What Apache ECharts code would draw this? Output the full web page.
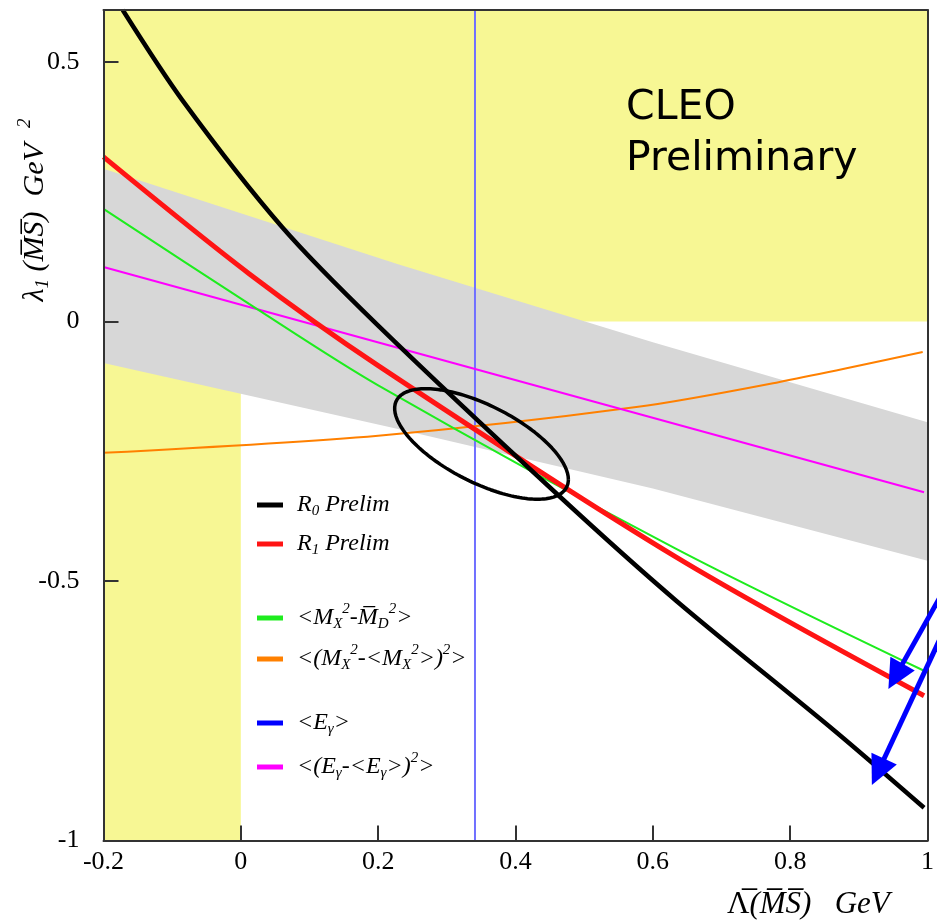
<!DOCTYPE html>
<html>
<head>
<meta charset="utf-8">
<script src="https://cdn.jsdelivr.net/npm/echarts/dist/echarts.min.js"></script>
<style>
  html, body { margin: 0; padding: 0; background: #ffffff; }
  #chart { width: 937px; height: 924px; }
</style>
</head>
<body>
<div id="chart"></div>
<script>
// ---- axis ranges ----
const xRange = [-0.2, 1.0];
const yRange = [-1.0, 0.6];
const xTickStep = 0.2;
const yTickStep = 0.5;

// ---- shaded allowed regions: [xMin, xMax, yMin, yMax] ----
const yellowRegions = [
  [-0.2, 1.0, 0.0, 0.6],
  [-0.2, 0.0, -1.0, 0.0]
];

// ---- error band around the photon-energy variance constraint ----
const bandUpper = [[-0.2, 0.294], [0.229, 0.110], [0.6, -0.040], [1.0, -0.194]];
const bandLower = [[-0.2, -0.080], [0.229, -0.207], [0.6, -0.322], [1.0, -0.461]];

// ---- moment constraint curves (Lambda-bar, lambda1) ----
const r0Curve = [[-0.172, 0.6], [-0.085, 0.426], [0.06, 0.182], [0.2, -0.008], [0.46, -0.332], [0.634, -0.538], [0.865, -0.789], [0.995, -0.937]];
const r1Curve = [[-0.2, 0.317], [0.012, 0.092], [0.2, -0.085], [0.634, -0.454], [0.995, -0.721]];
const hadronMassCurve = [[-0.2, 0.217], [0.012, 0.034], [0.2, -0.123], [0.634, -0.438], [0.995, -0.673]];
const hadronVarCurve = [[-0.2, -0.253], [0.2, -0.220], [0.576, -0.165], [0.783, -0.117], [0.993, -0.059]];
const photonVarLine = [[-0.2, 0.105], [0.995, -0.329]];
const photonMeanLine = [[0.341, -1.0], [0.341, 0.6]];

// ---- combined 1-sigma contour: centre and two conjugate semi-axes ----
const ellipseCenter = [0.3505, -0.236];
const ellipseAxisU = [0.1265, -0.0685];
const ellipseAxisV = [0.0, 0.0815];

// ---- annotation arrows: [xStart, yStart, xTip, yTip] ----
const arrows = [
  [1.017, -0.534, 0.943, -0.708],
  [1.017, -0.615, 0.919, -0.893]
];

// ---- legend entries ----
const legendLabels = [
  '{i|R}{sub|0}{i| Prelim}',
  '{i|R}{sub|1}{i| Prelim}',
  '{i|<M}{sub|X}{sup|2}{i|-M\u0305}{sub|D}{sup|2}{i|>}',
  '{i|<(M}{sub|X}{sup|2}{i|-<M}{sub|X}{sup|2}{i|>)}{sup|2}{i|>}',
  '{i|<E}{sub|\u03b3}{i|>}',
  '{i|<(E}{sub|\u03b3}{i|-<E}{sub|\u03b3}{i|>)}{sup|2}{i|>}'
];

const COLORS = {
  yellow: '#f7f794',
  gray: '#d7d7d7',
  black: '#000000',
  red: '#ff1414',
  green: '#1eec1e',
  orange: '#ff8000',
  magenta: '#ff00ff',
  blueLine: '#7070ff',
  blue: '#0000ff',
  frame: '#333333'
};
const legendColors = [COLORS.black, COLORS.red, COLORS.green, COLORS.orange, COLORS.blue, COLORS.magenta];
const legendRowY = [505, 544, 618, 659, 723, 767];

// build the contour outline
const ellipsePoints = [];
for (let k = 0; k <= 180; k++) {
  const t = (k / 180) * Math.PI * 2;
  ellipsePoints.push([
    ellipseCenter[0] + ellipseAxisU[0] * Math.cos(t) + ellipseAxisV[0] * Math.sin(t),
    ellipseCenter[1] + ellipseAxisU[1] * Math.cos(t) + ellipseAxisV[1] * Math.sin(t)
  ]);
}

const serif = 'Liberation Serif';
const richStyles = (size) => ({
  i: { fontFamily: serif, fontStyle: 'italic', fontSize: size, lineHeight: size + 8, color: '#000' },
  u: { fontFamily: serif, fontSize: size, lineHeight: size + 8, color: '#000' },
  sub: { fontFamily: serif, fontStyle: 'italic', fontSize: Math.round(size * 0.62), lineHeight: size + 8, padding: [Math.round(size * 0.5), 0, 0, 0], color: '#000' },
  sup: { fontFamily: serif, fontStyle: 'italic', fontSize: Math.round(size * 0.62), lineHeight: size + 8, padding: [0, 0, Math.round(size * 0.7), 0], color: '#000' }
});

const graphics = [];
legendLabels.forEach((label, idx) => {
  graphics.push({
    type: 'rect', z: 50,
    shape: { x: 257, y: legendRowY[idx] - 2.5, width: 26, height: 5 },
    style: { fill: legendColors[idx] }
  });
  graphics.push({
    type: 'text', z: 50, x: 297, y: legendRowY[idx],
    style: { text: label, rich: richStyles(24), textVerticalAlign: 'middle', verticalAlign: 'middle' }
  });
});
graphics.push({
  type: 'text', z: 50, x: 626, y: 83,
  style: {
    text: 'CLEO\nPreliminary', fontFamily: 'DejaVu Sans', fontSize: 41, lineHeight: 51,
    fill: '#000', textVerticalAlign: 'top', verticalAlign: 'top'
  }
});
graphics.push({
  type: 'text', z: 50, x: 35, y: 210, rotation: Math.PI / 2,
  style: {
    text: '{i|\u03bb}{sub|1}{i| (M\u0305S\u0305)  GeV  }{sup|2}', rich: richStyles(30),
    align: 'center', verticalAlign: 'middle', textAlign: 'center', textVerticalAlign: 'middle'
  }
});
graphics.push({
  type: 'text', z: 50, x: 727, y: 905,
  style: {
    text: '{u|\u039b\u0305}{i|(M\u0305S\u0305)   GeV}', rich: richStyles(31),
    align: 'left', verticalAlign: 'middle', textAlign: 'left', textVerticalAlign: 'middle'
  }
});

const lineSeries = (data, color, width, z) => ({
  type: 'line', data, smooth: data.length > 2 ? 0.3 : false,
  showSymbol: false, symbol: 'none', silent: true, z,
  lineStyle: { color, width, cap: 'butt' }
});

const axisCommon = {
  type: 'value', z: 10,
  splitLine: { show: false },
  axisLine: { show: true, onZero: false, lineStyle: { color: COLORS.frame, width: 2 } }
};

const chart = echarts.init(document.getElementById('chart'), null, { renderer: 'canvas' });
chart.setOption({
  animation: false,
  backgroundColor: '#ffffff',
  grid: { left: 103.5, right: 3.7, top: 10, bottom: 83.5, containLabel: false },
  xAxis: [
    Object.assign({}, axisCommon, {
      position: 'bottom', min: xRange[0], max: xRange[1], interval: xTickStep,
      axisTick: { show: true, inside: true, length: 15, lineStyle: { color: COLORS.frame, width: 2 } },
      axisLabel: { fontFamily: serif, fontSize: 26, color: '#000', margin: 9 }
    }),
    Object.assign({}, axisCommon, {
      position: 'top', min: xRange[0], max: xRange[1],
      axisTick: { show: false }, axisLabel: { show: false }
    })
  ],
  yAxis: [
    Object.assign({}, axisCommon, {
      position: 'left', min: yRange[0], max: yRange[1], interval: yTickStep,
      axisTick: { show: true, inside: true, length: 15, lineStyle: { color: COLORS.frame, width: 2 } },
      axisLabel: { fontFamily: serif, fontSize: 26, color: '#000', margin: 24, showMaxLabel: false }
    }),
    Object.assign({}, axisCommon, {
      position: 'right', min: yRange[0], max: yRange[1],
      axisTick: { show: false }, axisLabel: { show: false }
    })
  ],
  graphic: graphics,
  series: [
    {
      type: 'custom', silent: true, z: 1, data: yellowRegions,
      renderItem(params, api) {
        const p0 = api.coord([api.value(0), api.value(3)]);
        const p1 = api.coord([api.value(1), api.value(2)]);
        return {
          type: 'rect',
          shape: { x: p0[0], y: p0[1], width: p1[0] - p0[0], height: p1[1] - p0[1] },
          style: { fill: COLORS.yellow }
        };
      }
    },
    {
      type: 'custom', silent: true, z: 1, data: [[0, 0]],
      renderItem(params, api) {
        const pts = bandUpper.map(p => api.coord(p))
          .concat(bandLower.slice().reverse().map(p => api.coord(p)));
        return { type: 'polygon', shape: { points: pts }, style: { fill: COLORS.gray } };
      }
    },
    lineSeries(photonMeanLine, COLORS.blueLine, 2, 2),
    lineSeries(hadronVarCurve, COLORS.orange, 2, 2),
    lineSeries(photonVarLine, COLORS.magenta, 2, 2),
    lineSeries(hadronMassCurve, COLORS.green, 2, 2),
    lineSeries(r1Curve, COLORS.red, 5, 2),
    lineSeries(r0Curve, COLORS.black, 4.5, 2),
    Object.assign(lineSeries(ellipsePoints, COLORS.black, 3.5, 3), { smooth: false }),
    {
      type: 'custom', silent: true, z: 20, clip: false, data: arrows,
      renderItem(params, api) {
        const a = api.coord([api.value(0), api.value(1)]);
        const b = api.coord([api.value(2), api.value(3)]);
        const dx = b[0] - a[0], dy = b[1] - a[1];
        const len = Math.hypot(dx, dy);
        const ux = dx / len, uy = dy / len;
        const headLen = 29, headHalf = 14;
        const base = [b[0] - ux * headLen, b[1] - uy * headLen];
        return {
          type: 'group',
          children: [
            { type: 'line', shape: { x1: a[0], y1: a[1], x2: base[0] + ux * 4, y2: base[1] + uy * 4 },
              style: { stroke: COLORS.blue, lineWidth: 5 } },
            { type: 'polygon',
              shape: { points: [b, [base[0] - uy * headHalf, base[1] + ux * headHalf], [base[0] + uy * headHalf, base[1] - ux * headHalf]] },
              style: { fill: COLORS.blue } }
          ]
        };
      }
    }
  ]
});
</script>
</body>
</html>
